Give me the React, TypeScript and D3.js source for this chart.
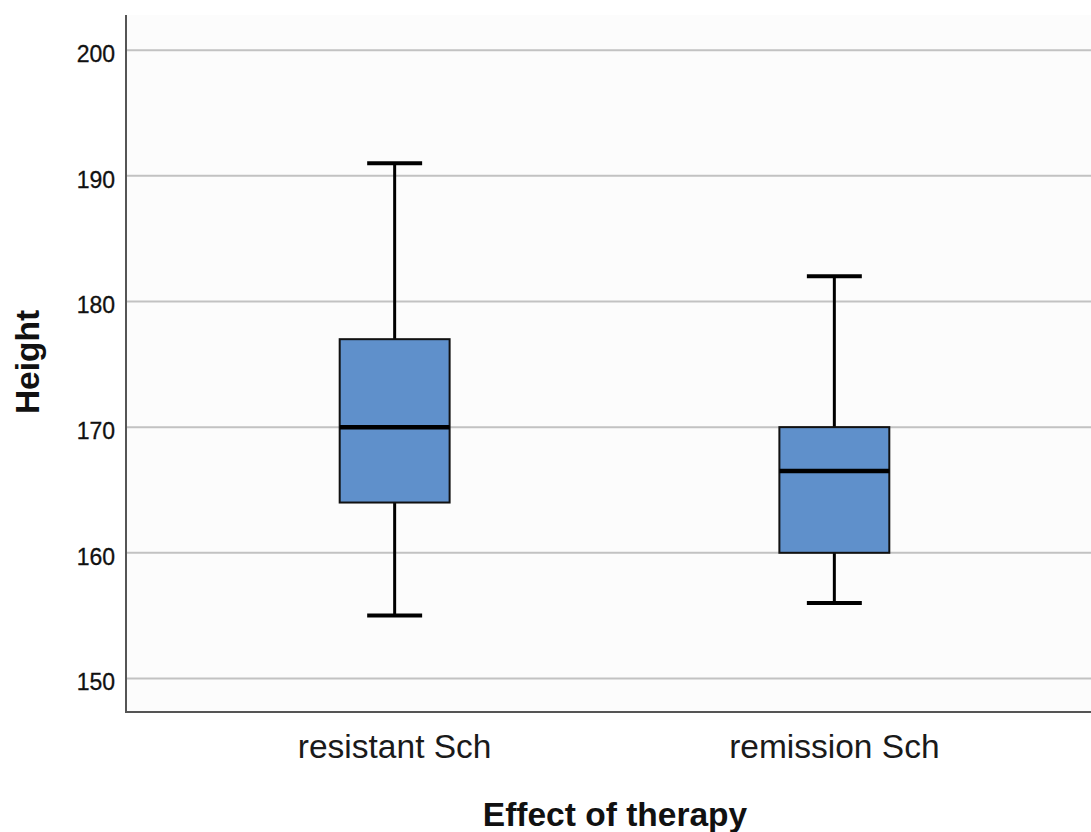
import React from "react";
import * as d3 from "d3";

const categories = ["resistant Sch", "remission Sch"];
const whiskerLow = [155, 156];
const q1 = [164, 160];
const median = [170, 166.5];
const q3 = [177, 170];
const whiskerHigh = [191, 182];
const yTicks = [150, 160, 170, 180, 190, 200];

const W = 1091;
const H = 832;
const left = 126;
const top = 15;
const bottom = 712;
const right = 1103;

export default function App() {
  const y = d3.scaleLinear().domain([147.33, 202.8]).range([bottom, top]);
  const x = d3.scalePoint<string>().domain(categories).range([left, right]).padding(0.611);
  const step = x.step();
  const boxW = step * 0.25;
  const capW = step * 0.125;
  const font = "'Liberation Sans', Arial, sans-serif";

  return (
    <svg width={W} height={H} style={{ position: "absolute", left: 0, top: 0, background: "#ffffff" }} fontFamily={font}>
      <rect x={left} y={top} width={W - left} height={bottom - top} fill="#fcfcfc" />
      {yTicks.map((t) => (
        <g key={t}>
          <line x1={left} x2={W} y1={y(t)} y2={y(t)} stroke="#c2c2c2" strokeWidth={2} />
          <text x={115} y={y(t) + 12} textAnchor="end" fontSize={23} fill="#111" stroke="#111" strokeWidth={0.3}>
            {t}
          </text>
        </g>
      ))}
      <line x1={left} x2={left} y1={top} y2={bottom} stroke="#555" strokeWidth={2} />
      <line x1={left - 1} x2={W} y1={bottom} y2={bottom} stroke="#555" strokeWidth={2} />
      {categories.map((c, i) => {
        const cx = x(c) as number;
        return (
          <g key={c}>
            <line x1={cx} x2={cx} y1={y(whiskerHigh[i])} y2={y(q3[i])} stroke="#000" strokeWidth={3} />
            <line x1={cx} x2={cx} y1={y(q1[i])} y2={y(whiskerLow[i])} stroke="#000" strokeWidth={3} />
            <line x1={cx - capW / 2} x2={cx + capW / 2} y1={y(whiskerHigh[i])} y2={y(whiskerHigh[i])} stroke="#000" strokeWidth={4} />
            <line x1={cx - capW / 2} x2={cx + capW / 2} y1={y(whiskerLow[i])} y2={y(whiskerLow[i])} stroke="#000" strokeWidth={4} />
            <rect
              x={cx - boxW / 2}
              y={y(q3[i])}
              width={boxW}
              height={y(q1[i]) - y(q3[i])}
              fill="#5f90cb"
              stroke="#111"
              strokeWidth={2}
            />
            <line x1={cx - boxW / 2} x2={cx + boxW / 2} y1={y(median[i])} y2={y(median[i])} stroke="#000" strokeWidth={4.5} />
            <text x={cx} y={758} textAnchor="middle" fontSize={33.5} fill="#1a1a1a">
              {c}
            </text>
          </g>
        );
      })}
      <text x={615} y={826} textAnchor="middle" fontSize={33.5} fontWeight="bold" fill="#111">
        Effect of therapy
      </text>
      <text
        transform={`translate(39, 362) rotate(-90)`}
        textAnchor="middle"
        fontSize={33.5}
        fontWeight="bold"
        fill="#111"
      >
        Height
      </text>
    </svg>
  );
}
